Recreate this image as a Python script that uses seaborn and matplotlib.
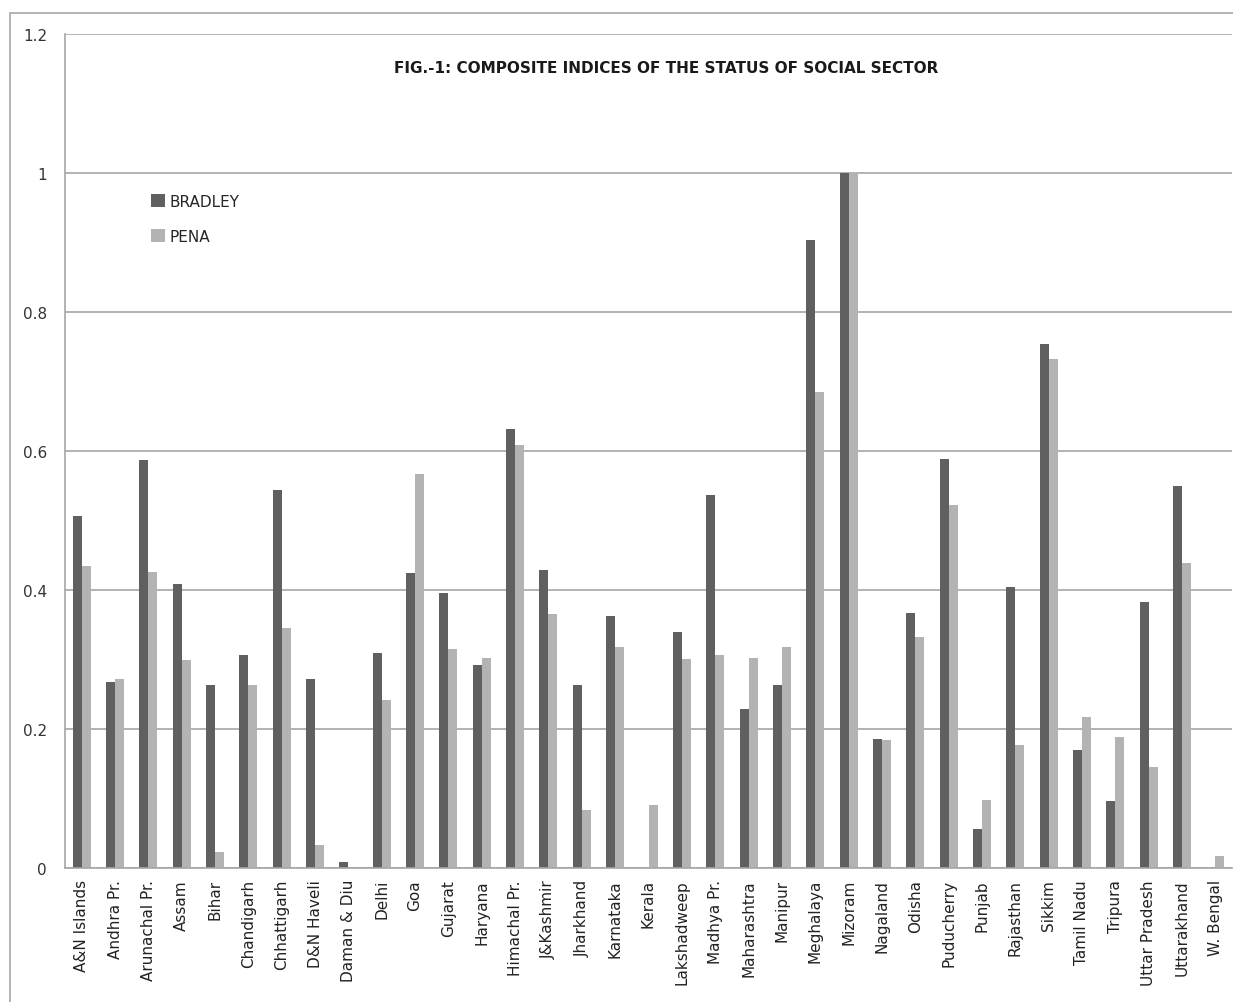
import pandas as pd
import numpy as np
import matplotlib
matplotlib.use("Agg")
import matplotlib.pyplot as plt
import seaborn as sns
from matplotlib.ticker import FixedLocator, FuncFormatter

states = ["A&N Islands", "Andhra Pr.", "Arunachal Pr.", "Assam", "Bihar", "Chandigarh",
          "Chhattigarh", "D&N Haveli", "Daman & Diu", "Delhi", "Goa", "Gujarat", "Haryana",
          "Himachal Pr.", "J&Kashmir", "Jharkhand", "Karnataka", "Kerala", "Lakshadweep",
          "Madhya Pr.", "Maharashtra", "Manipur", "Meghalaya", "Mizoram", "Nagaland",
          "Odisha", "Puducherry", "Punjab", "Rajasthan", "Sikkim", "Tamil Nadu", "Tripura",
          "Uttar Pradesh", "Uttarakhand", "W. Bengal"]

bradley = [0.506, 0.268, 0.587, 0.409, 0.263, 0.306, 0.544, 0.272, 0.009, 0.309, 0.424,
           0.396, 0.292, 0.632, 0.429, 0.263, 0.363, 0.0, 0.340, 0.537, 0.229, 0.263,
           0.904, 1.0, 0.186, 0.367, 0.589, 0.056, 0.404, 0.754, 0.170, 0.096, 0.383,
           0.550, 0.0]

pena = [0.435, 0.272, 0.426, 0.299, 0.023, 0.263, 0.345, 0.033, 0.0, 0.242, 0.567,
        0.315, 0.302, 0.609, 0.365, 0.083, 0.318, 0.091, 0.301, 0.306, 0.302, 0.318,
        0.685, 1.0, 0.184, 0.332, 0.522, 0.098, 0.177, 0.732, 0.217, 0.188, 0.145,
        0.439, 0.017]

df = pd.DataFrame({"state": states * 2,
                   "value": bradley + pena,
                   "series": ["BRADLEY"] * len(states) + ["PENA"] * len(states)})

sns.set_style("white")
plt.rcParams["font.family"] = ["DejaVu Sans"]

fig = plt.figure(figsize=(12.33, 10.03), dpi=100)
ax = fig.add_axes([65 / 1233, 1 - 869 / 1003, (1232 - 65) / 1233, (869 - 35) / 1003])

sns.barplot(data=df, x="state", y="value", hue="series",
            palette={"BRADLEY": "#606060", "PENA": "#b3b3b3"},
            width=0.54, gap=0, saturation=1, ax=ax, errorbar=None,
            linewidth=0, edgecolor="none")

ax.set_ylim(0, 1.2)
ax.set_xlim(-0.5, len(states) - 0.5)
ax.set_yticks(np.arange(0, 1.21, 0.2))
ax.yaxis.set_major_formatter(FuncFormatter(lambda v, p: f"{v:.1f}".rstrip("0").rstrip(".") if v else "0"))
ax.grid(axis="y", color="#a6a6a6", linewidth=1.2)
ax.set_axisbelow(True)

for s in ["top", "right"]:
    ax.spines[s].set_visible(False)
for s in ["left", "bottom"]:
    ax.spines[s].set_color("#a6a6a6")
    ax.spines[s].set_linewidth(1.2)

ax.tick_params(axis="y", length=5, color="#a6a6a6", labelsize=11, labelcolor="#333333", pad=8)
ax.tick_params(axis="x", which="major", length=0, labelsize=11, labelcolor="#222222", pad=8)
ax.xaxis.set_minor_locator(FixedLocator(np.arange(-0.5, len(states), 1.0)))
ax.tick_params(axis="x", which="minor", length=6, color="#a6a6a6", width=1.2)
plt.setp(ax.get_xticklabels(), rotation=90)

ax.set_xlabel("")
ax.set_ylabel("")

ax.text(0.515, 0.96, "FIG.-1: COMPOSITE INDICES OF THE STATUS OF SOCIAL SECTOR",
        transform=ax.transAxes, ha="center", va="center", fontsize=11,
        fontweight="bold", color="#1a1a1a")

leg = ax.legend(loc="upper left", bbox_to_anchor=(0.062, 0.825), frameon=False,
                fontsize=11, handlelength=0.9, handleheight=0.9, handletextpad=0.3,
                labelspacing=1.3)

# outer chart border
fig.patches.append(plt.Rectangle((10 / 1233, -0.1), 1.1, 1.1 - 14 / 1003, transform=fig.transFigure,
                                 fill=False, edgecolor="#a6a6a6", linewidth=1.2))

fig.savefig("out.png", dpi=100)
